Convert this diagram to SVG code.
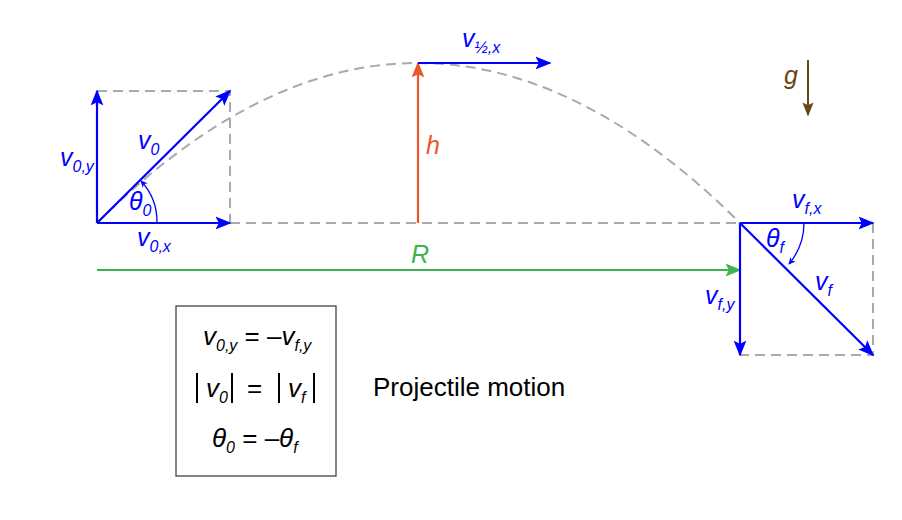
<svg xmlns="http://www.w3.org/2000/svg" width="902" height="520" viewBox="0 0 902 520">
<style>
.d{fill:none;stroke:#aaa;stroke-width:2;stroke-dasharray:10,6}
.b{stroke:#0000ff;stroke-width:2.2;fill:none}
.a{stroke:#0000ff;stroke-width:1.3;fill:none}
.t{font-family:"Liberation Sans",Arial,sans-serif;font-style:italic;font-size:25px}
.s{font-size:16px}
.bl{fill:#0000ff}
.k{font-family:"Liberation Sans",Arial,sans-serif;font-size:26px;fill:#000}
.bar{stroke:#000;stroke-width:2}
</style>
<defs>
<marker id="ab" viewBox="0 0 10 10" refX="9" refY="5" markerWidth="7" markerHeight="7" markerUnits="userSpaceOnUse" orient="auto"><path d="M0,0L10,5L0,10L3,5z" fill="#0000ff"/></marker>
<marker id="AB" viewBox="0 0 10 10" refX="9" refY="5" markerWidth="16" markerHeight="16" markerUnits="userSpaceOnUse" orient="auto"><path d="M0,1L10,5L0,9L2,5z" fill="#0000ff"/></marker>
<marker id="ao" viewBox="0 0 10 10" refX="9" refY="5" markerWidth="16" markerHeight="16" markerUnits="userSpaceOnUse" orient="auto"><path d="M0,1L10,5L0,9L2,5z" fill="#e8582a"/></marker>
<marker id="ag" viewBox="0 0 10 10" refX="9" refY="5" markerWidth="16" markerHeight="16" markerUnits="userSpaceOnUse" orient="auto"><path d="M0,1L10,5L0,9L2,5z" fill="#3cb44b"/></marker>
<marker id="an" viewBox="0 0 10 10" refX="9" refY="5" markerWidth="14" markerHeight="14" markerUnits="userSpaceOnUse" orient="auto"><path d="M0,1L10,5L0,9L2,5z" fill="#6b4414"/></marker>
</defs>
<g id="guides">
<path class="d" d="M97,223 Q418,-97 740,223"/>
<path class="d" d="M97,91H230V223"/>
<path class="d" d="M230,223H740"/>
<path class="d" d="M873,223V355H740"/>
</g>
<g id="connectors">
<line class="b" x1="97" y1="223" x2="97" y2="91" marker-end="url(#AB)"/>
<line class="b" x1="97" y1="223" x2="230" y2="223" marker-end="url(#AB)"/>
<line class="b" x1="97" y1="223" x2="230" y2="91" marker-end="url(#AB)"/>
<path class="a" d="M157,223 A60,60 0 0 0 141,181" marker-end="url(#ab)"/>
<line x1="418" y1="223" x2="418" y2="63" stroke="#e8582a" stroke-width="2.2" marker-end="url(#ao)"/>
<line class="b" x1="418" y1="63" x2="550" y2="63" marker-end="url(#AB)"/>
<line x1="97" y1="270" x2="740" y2="270" stroke="#3cb44b" stroke-width="2" marker-end="url(#ag)"/>
<line class="b" x1="740" y1="223" x2="873" y2="223" marker-end="url(#AB)"/>
<line class="b" x1="740" y1="223" x2="740" y2="355" marker-end="url(#AB)"/>
<line class="b" x1="740" y1="223" x2="873" y2="355" marker-end="url(#AB)"/>
<path class="a" d="M804,223 A64,64 0 0 1 789,264" marker-end="url(#ab)"/>
<line x1="808" y1="60" x2="808" y2="115" stroke="#6b4414" stroke-width="2" marker-end="url(#an)"/>
</g>
<g id="labels">
<text class="t bl" x="60" y="166">v<tspan class="s" dy="6">0,y</tspan></text>
<text class="t bl" x="138" y="149">v<tspan class="s" dy="6">0</tspan></text>
<text class="t bl" x="129" y="210">θ<tspan class="s" dy="6">0</tspan></text>
<text class="t bl" x="137" y="246">v<tspan class="s" dy="6">0,x</tspan></text>
<text class="t bl" x="462" y="47">v<tspan class="s" dy="6">½,x</tspan></text>
<text class="t" x="426" y="154" fill="#e8582a">h</text>
<text class="t" x="411" y="263" fill="#3cb44b">R</text>
<text class="t" x="784" y="84" fill="#6b4414">g</text>
<text class="t bl" x="792" y="208">v<tspan class="s" dy="6">f,x</tspan></text>
<text class="t bl" x="766" y="247">θ<tspan class="s" dy="6">f</tspan></text>
<text class="t bl" x="815" y="290">v<tspan class="s" dy="6">f</tspan></text>
<text class="t bl" x="705" y="304">v<tspan class="s" dy="6">f,y</tspan></text>
</g>
<g id="equations">
<rect x="176" y="306" width="160" height="170" fill="#fff" stroke="#444" stroke-width="1.3"/>
<text class="k" x="203" y="345"><tspan font-style="italic">v</tspan><tspan class="s" font-style="italic" dy="6">0,y</tspan><tspan dy="-6"> = –</tspan><tspan font-style="italic">v</tspan><tspan class="s" font-style="italic" dy="6">f,y</tspan></text>
<line class="bar" x1="197" y1="373" x2="197" y2="403"/>
<line class="bar" x1="232" y1="373" x2="232" y2="403"/>
<line class="bar" x1="279" y1="373" x2="279" y2="403"/>
<line class="bar" x1="314" y1="373" x2="314" y2="403"/>
<text class="k" x="206" y="397"><tspan font-style="italic">v</tspan><tspan class="s" font-style="italic" dy="6">0</tspan></text>
<text class="k" x="247" y="397">=</text>
<text class="k" x="288" y="397"><tspan font-style="italic">v</tspan><tspan class="s" font-style="italic" dy="6">f</tspan></text>
<text class="k" x="212" y="447"><tspan font-style="italic">θ</tspan><tspan class="s" font-style="italic" dy="6">0</tspan><tspan dy="-6"> = –</tspan><tspan font-style="italic">θ</tspan><tspan class="s" font-style="italic" dy="6">f</tspan></text>
<text class="k" x="373" y="396" font-size="23">Projectile motion</text>
</g>
</svg>
